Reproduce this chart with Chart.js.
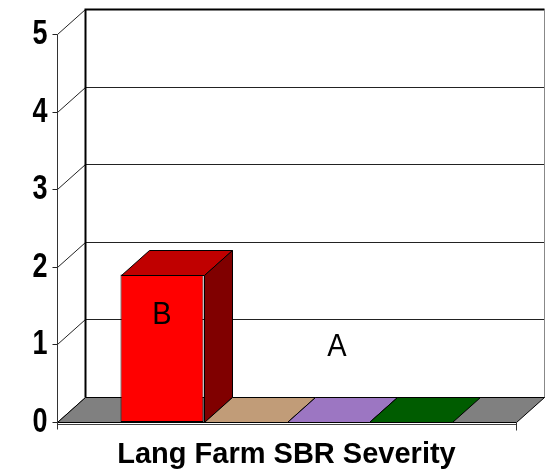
<!DOCTYPE html>
<html>
<head>
<meta charset="utf-8">
<script src="https://cdn.jsdelivr.net/npm/chart.js@4.4.0/dist/chart.umd.min.js"></script>
<style>
  html, body { margin: 0; padding: 0; background: #fff; }
</style>
</head>
<body>
<canvas id="chart" width="545" height="476"></canvas>
<script>
// data
const categories = ['Lang Farm SBR Severity'];
const seriesNames = ['Series 1', 'Series 2', 'Series 3', 'Series 4'];
const seriesValues = [[1.9], [0], [0], [0]];
const letters = ['B', '', 'A', ''];
const yTicks = [0, 1, 2, 3, 4, 5];

// styling
const frontColors = ['#FF0000', '#D8B48E', '#B08CD8', '#007000'];
const topColors = ['#C00000', '#C19C78', '#9C76C2', '#005C00'];
const sideColors = ['#800000', '#8F6F50', '#6A4E8A', '#003A00'];
const DX = 28, DY = -25;
const FONT = '"Liberation Sans", Arial, sans-serif';

// draw text stretched vertically (the original uses tall glyphs)
function tallText(ctx, txt, x, y, font, sy, align) {
    ctx.save();
    ctx.translate(x, y);
    ctx.scale(1, sy);
    ctx.font = font;
    ctx.fillStyle = '#000';
    ctx.textAlign = align;
    ctx.textBaseline = 'middle';
    ctx.fillText(txt, 0, 0);
    ctx.restore();
}

const box3d = {
    id: 'box3d',
    beforeDatasetsDraw(chart) {
        const { ctx, chartArea: a, scales: { y } } = chart;
        const L = Math.round(a.left) + 0.5, R = Math.round(a.right) + 0.5;
        const T = Math.round(a.top) + 0.5, B = Math.round(a.bottom) + 0.5;
        ctx.save();
        ctx.lineWidth = 1;

        // gridlines on side + back wall, tick marks and labels
        ctx.strokeStyle = '#222';
        yTicks.forEach(v => {
            const py = Math.round(y.getPixelForValue(v)) + 0.5;
            ctx.beginPath();
            ctx.moveTo(L, py);
            ctx.lineTo(L + DX, py + DY);
            ctx.lineTo(R + DX, py + DY);
            ctx.stroke();
            ctx.beginPath();
            ctx.moveTo(L - 5, py);
            ctx.lineTo(L, py);
            ctx.stroke();
            tallText(ctx, String(v), L - 10, py, 'bold 27px ' + FONT, 1.3, 'right');
        });

        // back wall edges
        ctx.strokeStyle = '#000';
        ctx.lineWidth = 2;
        ctx.beginPath();
        ctx.moveTo(L + DX, B + DY);
        ctx.lineTo(L + DX, T + DY);
        ctx.lineTo(R + DX, T + DY);
        ctx.stroke();
        ctx.lineWidth = 1;
        ctx.strokeStyle = '#888';
        ctx.beginPath();
        ctx.moveTo(R + DX, T + DY);
        ctx.lineTo(R + DX, B + DY);
        ctx.stroke();

        // floor
        ctx.fillStyle = '#808080';
        ctx.strokeStyle = '#000';
        ctx.beginPath();
        ctx.moveTo(L, B);
        ctx.lineTo(R, B);
        ctx.lineTo(R + DX, B + DY);
        ctx.lineTo(L + DX, B + DY);
        ctx.closePath();
        ctx.fill();
        ctx.stroke();
        ctx.beginPath();
        ctx.moveTo(L, B + 2);
        ctx.lineTo(R, B + 2);
        ctx.strokeStyle = '#444';
        ctx.stroke();

        // front axis and edge ticks
        ctx.strokeStyle = '#333';
        ctx.beginPath();
        ctx.moveTo(L, T);
        ctx.lineTo(L, B + 7);
        ctx.moveTo(R, B);
        ctx.lineTo(R, B + 8);
        ctx.stroke();
        ctx.restore();
    },
    afterDatasetsDraw(chart) {
        const { ctx, scales: { y } } = chart;
        ctx.save();
        ctx.lineWidth = 1;
        ctx.strokeStyle = '#000';
        chart.data.datasets.forEach((ds, i) => {
            chart.getDatasetMeta(i).data.forEach(bar => {
                const p = bar.getProps(['x', 'y', 'base', 'width'], true);
                const x0 = Math.round(p.x - p.width / 2) + 0.5;
                const x1 = Math.round(p.x + p.width / 2) + 0.5;
                const top = Math.round(p.y) + 0.5;
                const base = Math.round(p.base) + 0.5;
                // top face
                ctx.fillStyle = topColors[i];
                ctx.beginPath();
                ctx.moveTo(x0, top);
                ctx.lineTo(x1, top);
                ctx.lineTo(x1 + DX, top + DY);
                ctx.lineTo(x0 + DX, top + DY);
                ctx.closePath();
                ctx.fill();
                ctx.stroke();
                // side face
                if (base - top > 1) {
                    ctx.fillStyle = sideColors[i];
                    ctx.beginPath();
                    ctx.moveTo(x1, top);
                    ctx.lineTo(x1 + DX, top + DY);
                    ctx.lineTo(x1 + DX, base + DY);
                    ctx.lineTo(x1, base);
                    ctx.closePath();
                    ctx.fill();
                    ctx.stroke();
                }
                // letter
                if (letters[i]) {
                    const f = '29px ' + FONT;
                    if (base - top > 1) {
                        tallText(ctx, letters[i], p.x, top + 40, f, 1.1, 'center');
                    } else {
                        tallText(ctx, letters[i], p.x + 9, y.getPixelForValue(1) + 3, f, 1.1, 'center');
                    }
                }
            });
        });
        ctx.restore();
    }
};

new Chart(document.getElementById('chart'), {
    type: 'bar',
    data: {
        labels: categories,
        datasets: seriesNames.map((name, i) => ({
            label: name,
            data: seriesValues[i],
            backgroundColor: frontColors[i],
            borderColor: '#000',
            borderWidth: 1,
            borderSkipped: false,
            categoryPercentage: 0.7233,
            barPercentage: 1
        }))
    },
    options: {
        responsive: false,
        animation: false,
        devicePixelRatio: 1,
        layout: { padding: { top: 34, right: 29, left: 0, bottom: 0 } },
        plugins: {
            legend: { display: false },
            tooltip: { enabled: false }
        },
        scales: {
            x: {
                ticks: { display: false },
                grid: { display: false, drawTicks: false },
                border: { display: false },
                title: {
                    display: true,
                    text: categories[0],
                    color: '#000',
                    font: { family: FONT, size: 29, weight: 'bold' },
                    padding: { top: 0, bottom: 4 }
                },
                afterFit(s) { s.height = 54; }
            },
            y: {
                min: 0,
                max: 5,
                ticks: { display: false, stepSize: 1 },
                grid: { display: false, drawTicks: false },
                border: { display: false },
                afterFit(s) { s.width = 57; }
            }
        }
    },
    plugins: [box3d]
});
</script>
</body>
</html>
